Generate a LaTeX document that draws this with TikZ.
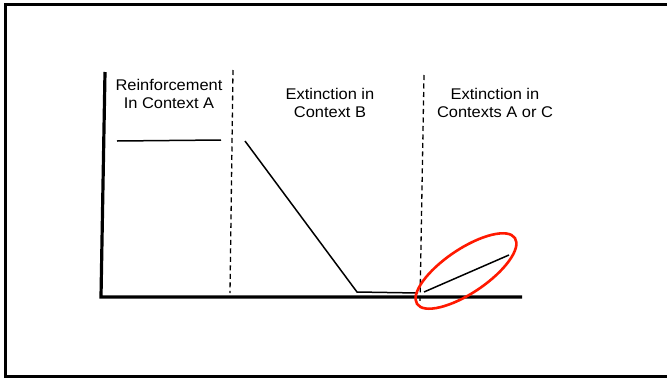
\documentclass[tikz,border=0pt]{standalone}
\usepackage{fontspec}
\setmainfont{Liberation Sans}
\usetikzlibrary{shapes.geometric}
\begin{document}
\begin{tikzpicture}[x=1pt,y=-1pt,
  frame/.style={line width=3pt,black},
  axis/.style={line width=3.2pt,black},
  divider/.style={line width=1.3pt,dash pattern=on 5pt off 3.5pt},
  curve/.style={line width=1.5pt},
  label/.style={align=center,font=\fontsize{15.5}{18}\selectfont,inner sep=0pt,xscale=1.06,transform shape},
  highlight/.style={draw=red!80!orange,line width=2.6pt}]
\useasboundingbox (0,0) rectangle (667,378);
\fill[white] (0,0) rectangle (667,378);
% frame (right side off the picture)
\draw[frame] (670,4) -- (5,4) -- (5,376) -- (670,376);
% axes
\coordinate (ytop) at (105,72);
\coordinate (origin) at (101,297);
\coordinate (xend) at (522,297);
\draw[axis] (ytop) -- (origin) -- (xend);
% dividers
\coordinate (d1t) at (233,70);
\coordinate (d1b) at (230,293);
\coordinate (d2t) at (424,75);
\coordinate (d2b) at (420,302);
\draw[divider] (d1t) -- (d1b);
\draw[divider] (d2t) -- (d2b);
% data lines
\coordinate (p1) at (117,141);
\coordinate (p2) at (221,140);
\coordinate (q1) at (245,141);
\coordinate (q2) at (357,292);
\coordinate (q3) at (418,293);
\coordinate (r1) at (424,292);
\coordinate (r2) at (509,255);
\draw[curve] (p1) -- (p2);
\draw[curve] (q1) -- (q2) -- (q3);
\draw[curve] (r1) -- (r2);
% highlight ellipse
\node[highlight,ellipse,minimum width=118pt,minimum height=44pt,rotate=34] (hl) at (466,271) {};
% labels
\node[label] (la) at (169,94) {Reinforcement\\In Context A};
\node[label] (lb) at (330,103) {Extinction in\\Context B};
\node[label] (lc) at (495,103) {Extinction in\\Contexts A or C};
\end{tikzpicture}
\end{document}
